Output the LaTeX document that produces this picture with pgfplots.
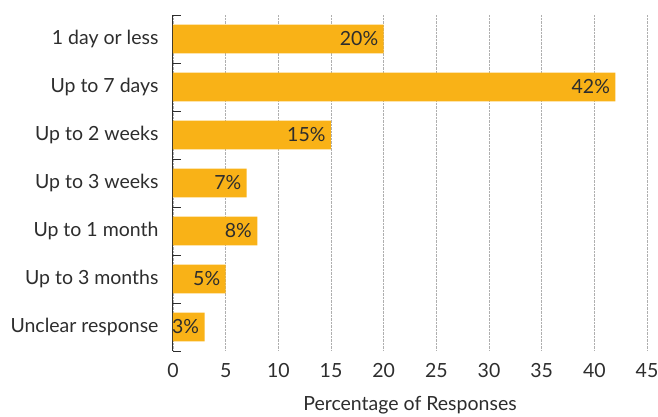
\documentclass[border=0pt]{standalone}
\usepackage{pgfplots}
\pgfplotsset{compat=1.18}
\usetikzlibrary{calc}
\usepackage{fontspec}
\setmainfont{Lato}
\definecolor{barc}{RGB}{249,178,23}
\definecolor{txt}{RGB}{45,45,45}
\definecolor{gridc}{RGB}{175,175,175}
\begin{document}
\begin{tikzpicture}
\begin{axis}[
  name=main,
  scale only axis,
  width=474bp, height=336bp,
  xbar, bar width=0.6,
  xmin=0, xmax=45,
  ymin=-0.5, ymax=6.5,
  y dir=reverse,
  axis x line*=bottom,
  axis y line*=left,
  x axis line style={draw=none},
  y axis line style={draw=txt, line width=1bp},
  xtick={0,5,...,45},
  ytick={0,...,6},
  yticklabels={1 day or less, Up to 7 days, Up to 2 weeks, Up to 3 weeks, Up to 1 month, Up to 3 months, Unclear response},
  minor ytick={-0.5,0.5,...,6.5},
  major tick length=0pt,
  minor tick length=8bp,
  minor tick style={draw=txt, line width=1bp},
  tick align=inside,
  xmajorgrids,
  major grid style={draw=gridc, densely dotted, line width=0.7bp},
  /pgf/number format/assume math mode=true,
  ticklabel style={font=\fontsize{19.5bp}{23bp}\selectfont, text=txt},
  yticklabel style={xshift=-11bp},
  xticklabel style={yshift=-9bp},
  xlabel={Percentage of Responses},
  xlabel style={font=\fontsize{19.5bp}{23bp}\selectfont, text=txt, yshift=-12bp},
  clip=false,
  axis on top=false,
  nodes near coords={\pgfmathprintnumber{\pgfplotspointmeta}\%},
  nodes near coords style={anchor=east, xshift=-2bp, text=txt, font=\fontsize{19.5bp}{23bp}\selectfont},
]
\addplot[draw=none, fill=barc] coordinates {(20,0) (42,1) (15,2) (7,3) (8,4) (5,5) (3,6)};
\end{axis}
\pgfresetboundingbox
\path[use as bounding box] ($(main.south west)+(-173bp,-66bp)$) rectangle ($(main.south west)+(485bp,351bp)$);
\end{tikzpicture}
\end{document}
